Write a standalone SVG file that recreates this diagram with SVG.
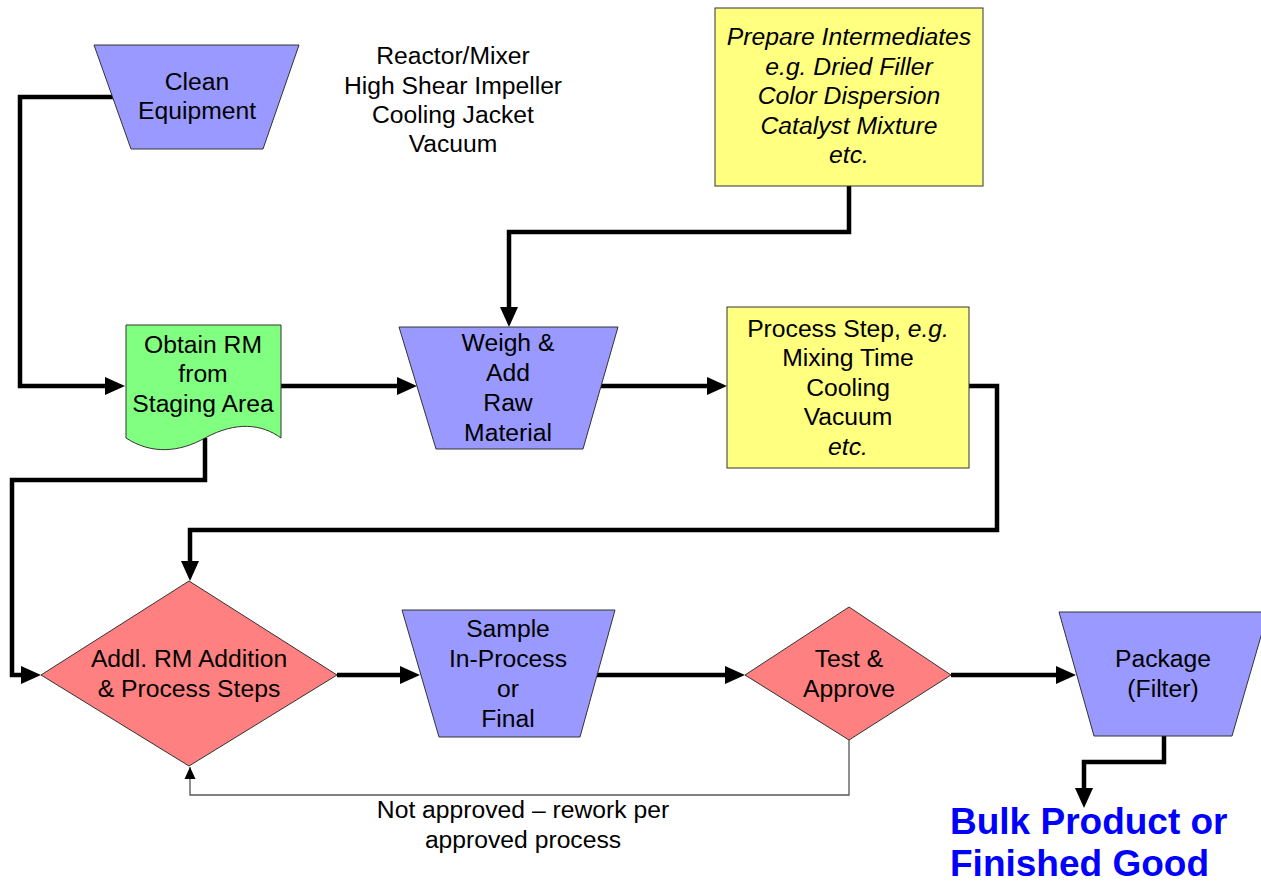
<svg xmlns="http://www.w3.org/2000/svg" width="1261" height="882" viewBox="0 0 1261 882">
<style>
text{font-family:"Liberation Sans",Arial,sans-serif;font-size:24.7px;fill:#000;text-anchor:middle}
.it{font-style:italic}
.trap{fill:#9999FF;stroke:#333;stroke-width:1}
.yel{fill:#FFFF80;stroke:#333;stroke-width:1}
.grn{fill:#80FF80;stroke:#333;stroke-width:1}
.dia{fill:#FF8080;stroke:#333;stroke-width:1}
.c{fill:none;stroke:#000;stroke-width:4.5;stroke-linejoin:miter}
.thin{fill:none;stroke:#555;stroke-width:1.3}
.big{font-size:37px;font-weight:bold;fill:#0000FF;text-anchor:start}
</style>
<defs>
<marker id="ah" markerUnits="userSpaceOnUse" markerWidth="20" markerHeight="18" refX="10" refY="9" orient="auto" overflow="visible">
<path d="M0,0 L20,9 L0,18 Z" fill="#000"/>
</marker>
<marker id="sa" markerUnits="userSpaceOnUse" markerWidth="12" markerHeight="11" refX="12" refY="5.5" orient="auto" overflow="visible">
<path d="M0,0 L12,5.5 L0,11 Z" fill="#000"/>
</marker>
</defs>

<g id="connectors">
<path class="c" d="M113 97 H20 V386 H115" marker-end="url(#ah)"/>
<path class="c" d="M281 386 H407" marker-end="url(#ah)"/>
<path class="c" d="M849 186 V232 H509 V317" marker-end="url(#ah)"/>
<path class="c" d="M601 386 H717" marker-end="url(#ah)"/>
<path class="c" d="M969 386 H997 V530 H190 V571" marker-end="url(#ah)"/>
<path class="c" d="M205 438 V480 H12 V675 H31" marker-end="url(#ah)"/>
<path class="c" d="M337 675 H410" marker-end="url(#ah)"/>
<path class="c" d="M597 675 H735" marker-end="url(#ah)"/>
<path class="c" d="M951 675 H1066" marker-end="url(#ah)"/>
<path class="c" d="M1164 736 V762 H1084 V798" marker-end="url(#ah)"/>
<path class="thin" d="M849 740 V795 H190 V767" marker-end="url(#sa)"/>
</g>

<g id="clean-equipment">
<path class="trap" d="M94 45 H299 L263 149 H131 Z"/>
<text x="197" y="90">Clean</text>
<text x="197" y="119">Equipment</text>
</g>

<g id="reactor-note">
<text x="453" y="64">Reactor/Mixer</text>
<text x="453" y="94">High Shear Impeller</text>
<text x="453" y="123">Cooling Jacket</text>
<text x="453" y="152">Vacuum</text>
</g>

<g id="prepare-intermediates">
<rect class="yel" x="715" y="8" width="268" height="178"/>
<text class="it" x="849" y="45">Prepare Intermediates</text>
<text class="it" x="849" y="75">e.g. Dried Filler</text>
<text class="it" x="849" y="104">Color Dispersion</text>
<text class="it" x="849" y="134">Catalyst Mixture</text>
<text class="it" x="849" y="163">etc.</text>
</g>

<g id="obtain-rm">
<path class="grn" d="M126 325 H281 V438 C262 424 236 421 205 438 C180 452 152 455 126 438 Z"/>
<text x="203" y="353">Obtain RM</text>
<text x="203" y="382">from</text>
<text x="203" y="412">Staging Area</text>
</g>

<g id="weigh-add">
<path class="trap" d="M399 327 H618 L583 449 H436 Z"/>
<text x="508" y="351">Weigh &amp;</text>
<text x="508" y="381">Add</text>
<text x="508" y="411">Raw</text>
<text x="508" y="441">Material</text>
</g>

<g id="process-step">
<rect class="yel" x="727" y="307" width="242" height="161"/>
<text x="848" y="337">Process Step, <tspan class="it">e.g.</tspan></text>
<text x="848" y="366">Mixing Time</text>
<text x="848" y="396">Cooling</text>
<text x="848" y="425">Vacuum</text>
<text class="it" x="848" y="455">etc.</text>
</g>

<g id="addl-rm">
<path class="dia" d="M41 675 L189 581 L337 675 L189 766 Z"/>
<text x="189" y="667">Addl. RM Addition</text>
<text x="189" y="697">&amp; Process Steps</text>
</g>

<g id="sample">
<path class="trap" d="M402 610 H615 L580 737 H439 Z"/>
<text x="508" y="637">Sample</text>
<text x="508" y="667">In-Process</text>
<text x="508" y="697">or</text>
<text x="508" y="727">Final</text>
</g>

<g id="test-approve">
<path class="dia" d="M745 675 L849 607 L951 675 L849 740 Z"/>
<text x="849" y="667">Test &amp;</text>
<text x="849" y="697">Approve</text>
</g>

<g id="package">
<path class="trap" d="M1059 612 H1268 L1232 736 H1094 Z"/>
<text x="1163" y="667">Package</text>
<text x="1163" y="697">(Filter)</text>
</g>

<g id="rework-label">
<text x="523" y="818">Not approved – rework per</text>
<text x="523" y="848">approved process</text>
</g>

<g id="bulk-product">
<text class="big" x="950" y="834">Bulk Product or</text>
<text class="big" x="950" y="876">Finished Good</text>
</g>
</svg>
